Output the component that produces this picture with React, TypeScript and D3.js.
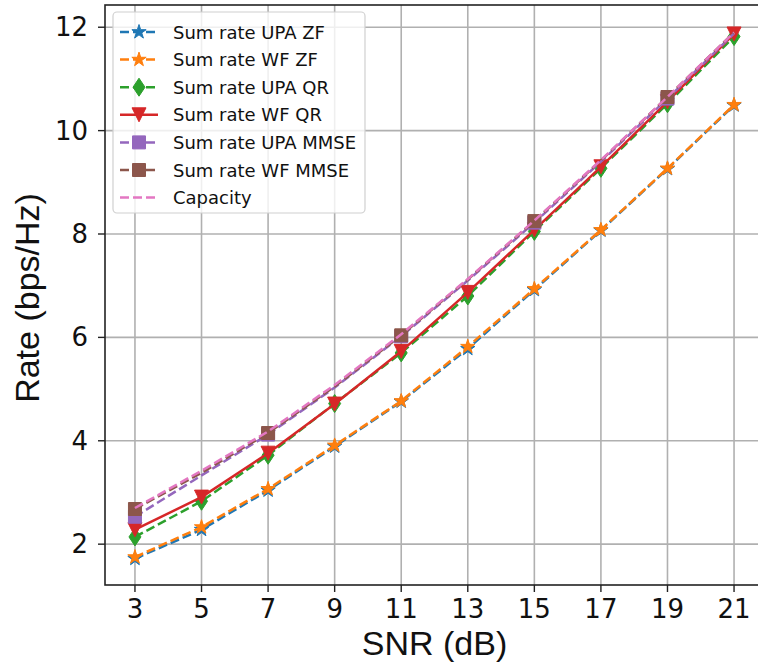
import React from 'react';
import * as d3 from 'd3';

const snr = [3, 5, 7, 9, 11, 13, 15, 17, 19, 21];
const upaZF = [1.72, 2.28, 3.04, 3.89, 4.76, 5.78, 6.92, 8.07, 9.26, 10.49];
const wfZF = [1.75, 2.33, 3.07, 3.91, 4.77, 5.82, 6.94, 8.08, 9.27, 10.5];
const upaQR = [2.14, 2.83, 3.72, 4.72, 5.7, 6.8, 8.05, 9.27, 10.52, 11.82];
const wfQR = [2.28, 2.91, 3.76, 4.71, 5.73, 6.87, 8.08, 9.3, 10.56, 11.87];
const upaMMSE = [2.53, 3.33, 4.12, 5.03, 6.02, 7.1, 8.22, 9.4, 10.62, 11.88];
const wfMMSE = [2.68, 3.38, 4.15, 5.05, 6.04, 7.12, 8.25, 9.42, 10.65, 11.9];
const capacity = [2.7, 3.42, 4.18, 5.08, 6.06, 7.13, 8.26, 9.43, 10.65, 11.9];

const seriesNames = [
  'Sum rate UPA ZF',
  'Sum rate WF ZF',
  'Sum rate UPA QR',
  'Sum rate WF QR',
  'Sum rate UPA MMSE',
  'Sum rate WF MMSE',
  'Capacity',
];
const xTicks = [3, 5, 7, 9, 11, 13, 15, 17, 19, 21];
const yTicks = [2, 4, 6, 8, 10, 12];

type MarkerKind = 'star' | 'diamond' | 'tri' | 'square' | 'none';

function markerPath(kind: MarkerKind, cx: number, cy: number): string {
  if (kind === 'star') {
    const R = 7.5, r = R * 0.382;
    const pts: [number, number][] = [];
    for (let i = 0; i < 10; i++) {
      const a = (-90 + i * 36) * Math.PI / 180;
      const rr = i % 2 === 0 ? R : r;
      pts.push([cx + rr * Math.cos(a), cy + rr * Math.sin(a)]);
    }
    return 'M' + pts.map(p => p.join(',')).join('L') + 'Z';
  }
  if (kind === 'diamond') {
    const h = 9, w = 6;
    return `M${cx},${cy - h}L${cx + w},${cy}L${cx},${cy + h}L${cx - w},${cy}Z`;
  }
  if (kind === 'tri') {
    const h = 7;
    return `M${cx},${cy + h}L${cx - h},${cy - h}L${cx + h},${cy - h}Z`;
  }
  if (kind === 'square') {
    const s = 6.5;
    return `M${cx - s},${cy - s}h${2 * s}v${2 * s}h${-2 * s}Z`;
  }
  return '';
}

export default function App() {
  const W = 758, H = 669;
  const left = 105, right = 764, top = 5, bottom = 585;
  const x = d3.scaleLinear().domain([2.1, 21.9]).range([left, right]);
  const y = d3.scaleLinear().domain([1.21, 12.43]).range([bottom, top]);
  const line = d3.line<[number, number]>();

  const series = [
    { name: seriesNames[0], vals: upaZF, color: '#1f77b4', dash: '9,4', marker: 'star' as MarkerKind, every: 1 },
    { name: seriesNames[1], vals: wfZF, color: '#ff7f0e', dash: '9,4', marker: 'star' as MarkerKind, every: 1 },
    { name: seriesNames[2], vals: upaQR, color: '#2ca02c', dash: '9,4', marker: 'diamond' as MarkerKind, every: 1 },
    { name: seriesNames[3], vals: wfQR, color: '#d62728', dash: '', marker: 'tri' as MarkerKind, every: 1 },
    { name: seriesNames[4], vals: upaMMSE, color: '#9467bd', dash: '9,4', marker: 'square' as MarkerKind, every: 2 },
    { name: seriesNames[5], vals: wfMMSE, color: '#8c564b', dash: '9,4', marker: 'square' as MarkerKind, every: 2 },
    { name: seriesNames[6], vals: capacity, color: '#e377c2', dash: '9,4', marker: 'none' as MarkerKind, every: 1 },
  ];

  const lw = 2.5;
  const legX = 113, legY = 12, legW = 252, legH = 201;
  const rowY0 = 20, rowStep = 27.6;

  return (
    <svg width={W} height={H} style={{ position: 'absolute', left: 0, top: 0, background: '#fff' }}>
      <rect x={0} y={0} width={W} height={H} fill="#fff" />
      <defs>
        <clipPath id="plotclip">
          <rect x={left} y={top} width={right - left} height={bottom - top} />
        </clipPath>
      </defs>
      {/* grid */}
      <g stroke="#b0b0b0" strokeWidth={1.6}>
        {xTicks.map(t => <line key={'gx' + t} x1={x(t)} x2={x(t)} y1={top} y2={bottom} />)}
        {yTicks.map(t => <line key={'gy' + t} x1={left} x2={right} y1={y(t)} y2={y(t)} />)}
      </g>
      {/* series */}
      <g clipPath="url(#plotclip)">
        {series.map(s => {
          const pts = snr.map((v, i) => [x(v), y(s.vals[i])] as [number, number]);
          return (
            <g key={s.name}>
              <path d={line(pts) || ''} fill="none" stroke={s.color} strokeWidth={lw}
                strokeDasharray={s.dash || undefined} strokeLinejoin="round" />
              {s.marker !== 'none' && pts.filter((_, i) => i % s.every === 0).map((p, i) => (
                <path key={i} d={markerPath(s.marker, p[0], p[1])} fill={s.color} stroke={s.color} strokeWidth={1} strokeLinejoin="round" />
              ))}
            </g>
          );
        })}
      </g>
      {/* spines */}
      <rect x={left} y={top} width={right - left} height={bottom - top} fill="none" stroke="#222" strokeWidth={1.6} />
      {/* ticks */}
      <g stroke="#222" strokeWidth={1.4}>
        {xTicks.map(t => <line key={'tx' + t} x1={x(t)} x2={x(t)} y1={bottom} y2={bottom + 7} />)}
        {yTicks.map(t => <line key={'ty' + t} x1={left - 7} x2={left} y1={y(t)} y2={y(t)} />)}
      </g>
      <g fontFamily="DejaVu Sans" fontSize={26} fill="#111">
        {xTicks.map(t => (
          <text key={'lx' + t} x={x(t)} y={bottom + 33} textAnchor="middle">{t}</text>
        ))}
        {yTicks.map(t => (
          <text key={'ly' + t} x={left - 17} y={y(t) + 9} textAnchor="end">{t}</text>
        ))}
      </g>
      <text x={(left + right) / 2} y={655} textAnchor="middle" fontFamily="Liberation Sans" fontSize={34} fill="#111">SNR (dB)</text>
      <text transform={`translate(39,298) rotate(-90)`} textAnchor="middle" fontFamily="Liberation Sans" fontSize={34} fill="#111">Rate (bps/Hz)</text>
      {/* legend */}
      <g>
        <rect x={legX} y={legY} width={legW} height={legH} rx={4} fill="#fff" fillOpacity={0.8} stroke="#d0d0d0" strokeWidth={1.2} />
        {series.map((s, i) => {
          const cy = legY + rowY0 + i * rowStep;
          return (
            <g key={'leg' + i}>
              <line x1={120} x2={158} y1={cy} y2={cy} stroke={s.color} strokeWidth={lw} strokeDasharray={s.dash || undefined} />
              {s.marker !== 'none' && <path d={markerPath(s.marker, 139, cy)} fill={s.color} stroke={s.color} strokeWidth={1} />}
              <text x={173} y={cy + 6.5} fontFamily="DejaVu Sans" fontSize={18} fill="#111">{s.name}</text>
            </g>
          );
        })}
      </g>
    </svg>
  );
}
